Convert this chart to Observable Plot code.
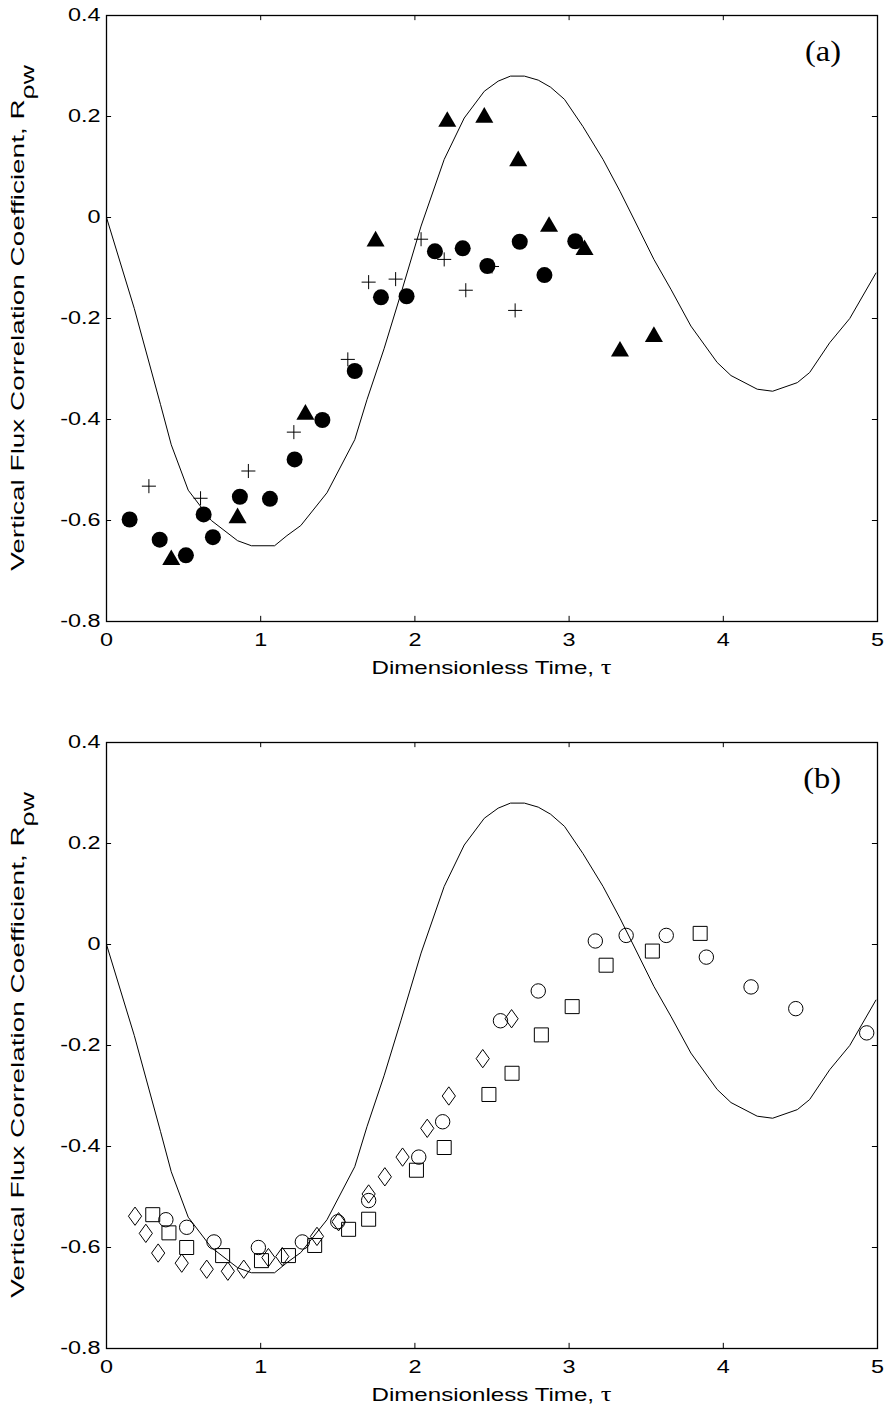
<!DOCTYPE html>
<html><head><meta charset="utf-8">
<script src="https://cdn.jsdelivr.net/npm/d3@7"></script>
<script src="https://cdn.jsdelivr.net/npm/@observablehq/plot@0.6"></script>
<style>
body{margin:0;background:#fff;}
#chart svg{display:block;}
</style></head><body><div id="chart"></div>
<script>
// ---- axes ----
const xTicks = [0, 1, 2, 3, 4, 5];
const xTickLabels = ["0", "1", "2", "3", "4", "5"];
const yTicks = [-0.8, -0.6, -0.4, -0.2, 0, 0.2, 0.4];
const yTickLabels = ["-0.8", "-0.6", "-0.4", "-0.2", "0", "0.2", "0.4"];
const xTitle = "Dimensionless Time, ";
const xTitleSymbol = "\u03C4";
const yTitle = "Vertical Flux Correlation Coefficient, R";
const yTitleSub = "\u03C1w";
const panelLetters = ["(a)", "(b)"];

// ---- theoretical curve (both panels) ----
const curveT = [0, 0.18, 0.35, 0.42, 0.53, 0.68, 0.85, 0.94, 1.09, 1.17, 1.26, 1.43, 1.61, 1.69, 1.80, 1.91, 2.04, 2.19, 2.32, 2.45, 2.54, 2.62, 2.71, 2.80, 2.88, 2.97, 3.09, 3.22, 3.33, 3.42, 3.55, 3.66, 3.79, 3.96, 4.05, 4.22, 4.32, 4.48, 4.56, 4.69, 4.82, 4.99];
const curveR = [0, -0.18, -0.37, -0.45, -0.54, -0.60, -0.64, -0.65, -0.65, -0.63, -0.61, -0.545, -0.44, -0.36, -0.26, -0.15, -0.017, 0.115, 0.197, 0.25, 0.27, 0.28, 0.28, 0.272, 0.258, 0.234, 0.18, 0.115, 0.052, -0.003, -0.083, -0.142, -0.215, -0.287, -0.313, -0.34, -0.344, -0.327, -0.307, -0.248, -0.20, -0.11];

// ---- panel (a) ----
const aCircleT = [0.15, 0.345, 0.515, 0.63, 0.69, 0.865, 1.06, 1.22, 1.40, 1.61, 1.78, 1.946, 2.13, 2.31, 2.47, 2.68, 2.84, 3.04];
const aCircleR = [-0.598, -0.638, -0.669, -0.588, -0.633, -0.553, -0.557, -0.479, -0.401, -0.304, -0.158, -0.156, -0.067, -0.061, -0.096, -0.048, -0.114, -0.047];
const aTriangleT = [0.42, 0.85, 1.29, 1.745, 2.21, 2.45, 2.67, 2.87, 3.10, 3.33, 3.55];
const aTriangleR = [-0.678, -0.595, -0.39, -0.047, 0.19, 0.198, 0.112, -0.018, -0.064, -0.265, -0.236];
const aPlusT = [0.275, 0.61, 0.92, 1.215, 1.565, 1.70, 1.875, 2.04, 2.19, 2.33, 2.50, 2.65];
const aPlusR = [-0.532, -0.556, -0.502, -0.425, -0.281, -0.128, -0.122, -0.043, -0.083, -0.144, -0.097, -0.184];

// ---- panel (b) ----
const bDiamondT = [0.185, 0.255, 0.335, 0.488, 0.65, 0.787, 0.89, 1.05, 1.14, 1.365, 1.505, 1.70, 1.805, 1.92, 2.08, 2.22, 2.44, 2.627];
const bDiamondR = [-0.538, -0.572, -0.611, -0.631, -0.643, -0.647, -0.643, -0.620, -0.618, -0.578, -0.549, -0.494, -0.460, -0.421, -0.364, -0.30, -0.226, -0.147];
const bSquareT = [0.30, 0.405, 0.52, 0.753, 1.005, 1.18, 1.35, 1.57, 1.70, 2.01, 2.19, 2.48, 2.63, 2.82, 3.02, 3.24, 3.54, 3.85];
const bSquareR = [-0.535, -0.571, -0.600, -0.616, -0.626, -0.616, -0.596, -0.564, -0.544, -0.447, -0.402, -0.297, -0.255, -0.179, -0.123, -0.041, -0.013, 0.022];
const bCircleT = [0.385, 0.52, 0.697, 0.985, 1.27, 1.50, 1.70, 2.025, 2.18, 2.555, 2.80, 3.17, 3.37, 3.63, 3.89, 4.18, 4.47, 4.93];
const bCircleR = [-0.545, -0.560, -0.589, -0.600, -0.589, -0.549, -0.507, -0.421, -0.351, -0.151, -0.092, 0.007, 0.018, 0.018, -0.025, -0.084, -0.127, -0.175];

const pts = (T, R) => T.map((t, i) => ({t, r: R[i]}));
const curve = pts(curveT, curveR);
const xLab = new Map(xTicks.map((v, i) => [v, xTickLabels[i]]));
const yLab = new Map(yTicks.map((v, i) => [v, yTickLabels[i]]));
const xDom = [xTicks[0], xTicks[xTicks.length - 1]];
const yDom = [yTicks[0], yTicks[yTicks.length - 1]];

// narrow diamond, like MATLAB's 'd' marker
const narrowDiamond = {
  draw(ctx, size) {
    const a = Math.sqrt(size / 1.44), b = 0.72 * a;
    ctx.moveTo(0, -a); ctx.lineTo(b, 0); ctx.lineTo(0, a); ctx.lineTo(-b, 0); ctx.closePath();
  }
};

const FONT = "'Liberation Sans', Arial, sans-serif";
const MT = 15, ML = 106, MR = 9, PLOT_H = 606;

function panel(height, dotMarks, letter) {
  const tx = (xDom[1] - xDom[0]) * 0.0066, ty = (yDom[1] - yDom[0]) * 0.0085;
  const marks = [
    Plot.ruleX(xTicks, {x: d => d, y1: yDom[0], y2: yDom[0] + ty, stroke: "black", strokeWidth: 1}),
    Plot.ruleX(xTicks, {x: d => d, y1: yDom[1], y2: yDom[1] - ty, stroke: "black", strokeWidth: 1}),
    Plot.ruleY(yTicks, {y: d => d, x1: xDom[0], x2: xDom[0] + tx, stroke: "black", strokeWidth: 1}),
    Plot.ruleY(yTicks, {y: d => d, x1: xDom[1], x2: xDom[1] - tx, stroke: "black", strokeWidth: 1}),
    Plot.axisX(xTicks, {tickSize: 0, tickPadding: 12, tickFormat: d => xLab.get(d), label: null, fontSize: 18}),
    Plot.axisY(yTicks, {tickSize: 0, tickPadding: 6, tickFormat: d => yLab.get(d), label: null, fontSize: 18}),
    Plot.line(curve, {x: "t", y: "r", stroke: "black", strokeWidth: 1}),
    ...dotMarks,
    Plot.frame({stroke: "black", strokeWidth: 1.3})
  ];
  const svg = Plot.plot({
    width: 886, height, marginTop: MT, marginBottom: height - MT - PLOT_H, marginLeft: ML, marginRight: MR,
    x: {domain: xDom}, y: {domain: yDom},
    style: {fontFamily: FONT, color: "black", background: "white", overflow: "visible"},
    marks
  });
  document.getElementById("chart").appendChild(svg);
  const s = d3.select(svg);
  const bottom = MT + PLOT_H;
  // x title
  const xt = s.append("text").attr("x", (ML + 886 - MR) / 2).attr("y", bottom + 53)
    .attr("text-anchor", "middle").attr("font-family", FONT).attr("font-size", 19).attr("fill", "black");
  xt.append("tspan").text(xTitle);
  xt.append("tspan").attr("font-family", "'Liberation Serif', serif").attr("font-size", 21).text(xTitleSymbol);
  // y title
  const yt = s.append("text").attr("transform", `translate(24,${MT + PLOT_H / 2}) rotate(-90)`)
    .attr("text-anchor", "middle").attr("font-family", FONT).attr("font-size", 19).attr("fill", "black");
  yt.append("tspan").text(yTitle);
  yt.append("tspan").attr("dy", 10).attr("font-size", 18).text(yTitleSub);
  // panel letter
  const lt = s.append("text").attr("x", 841).attr("y", MT + 46).attr("text-anchor", "end")
    .attr("font-family", "'Liberation Serif', 'Times New Roman', serif").attr("font-size", 30).attr("font-weight", "normal").attr("fill", "black").text(letter);
  // horizontal stretch of the glyphs (the reference figure is stretched sideways)
  const stretch = (el, f) => { const L = el.getComputedTextLength(); el.setAttribute("textLength", L * f); el.setAttribute("lengthAdjust", "spacingAndGlyphs"); };
  svg.querySelectorAll('g[aria-label$="tick label"] text').forEach(t => stretch(t, 1.3));
  stretch(xt.node(), 1.27);
  stretch(yt.node(), 1.47);
  stretch(lt.node(), 1.08);
}

panel(727, [
  Plot.dot(pts(aCircleT, aCircleR), {x: "t", y: "r", r: 8, fill: "black", stroke: "none"}),
  Plot.dot(pts(aTriangleT, aTriangleR), {x: "t", y: "r", symbol: "triangle", r: 6.7, fill: "black", stroke: "none"}),
  Plot.dot(pts(aPlusT, aPlusR), {x: "t", y: "r", symbol: "plus", r: 4.6, fill: "none", stroke: "black", strokeWidth: 1})
], panelLetters[0]);

panel(689, [
  Plot.dot(pts(bDiamondT, bDiamondR), {x: "t", y: "r", symbol: narrowDiamond, r: 6.2, fill: "none", stroke: "black", strokeWidth: 1}),
  Plot.dot(pts(bSquareT, bSquareR), {x: "t", y: "r", symbol: "square", r: 7.9, fill: "none", stroke: "black", strokeWidth: 1}),
  Plot.dot(pts(bCircleT, bCircleR), {x: "t", y: "r", r: 7.2, fill: "none", stroke: "black", strokeWidth: 1})
], panelLetters[1]);
</script>
</body></html>
